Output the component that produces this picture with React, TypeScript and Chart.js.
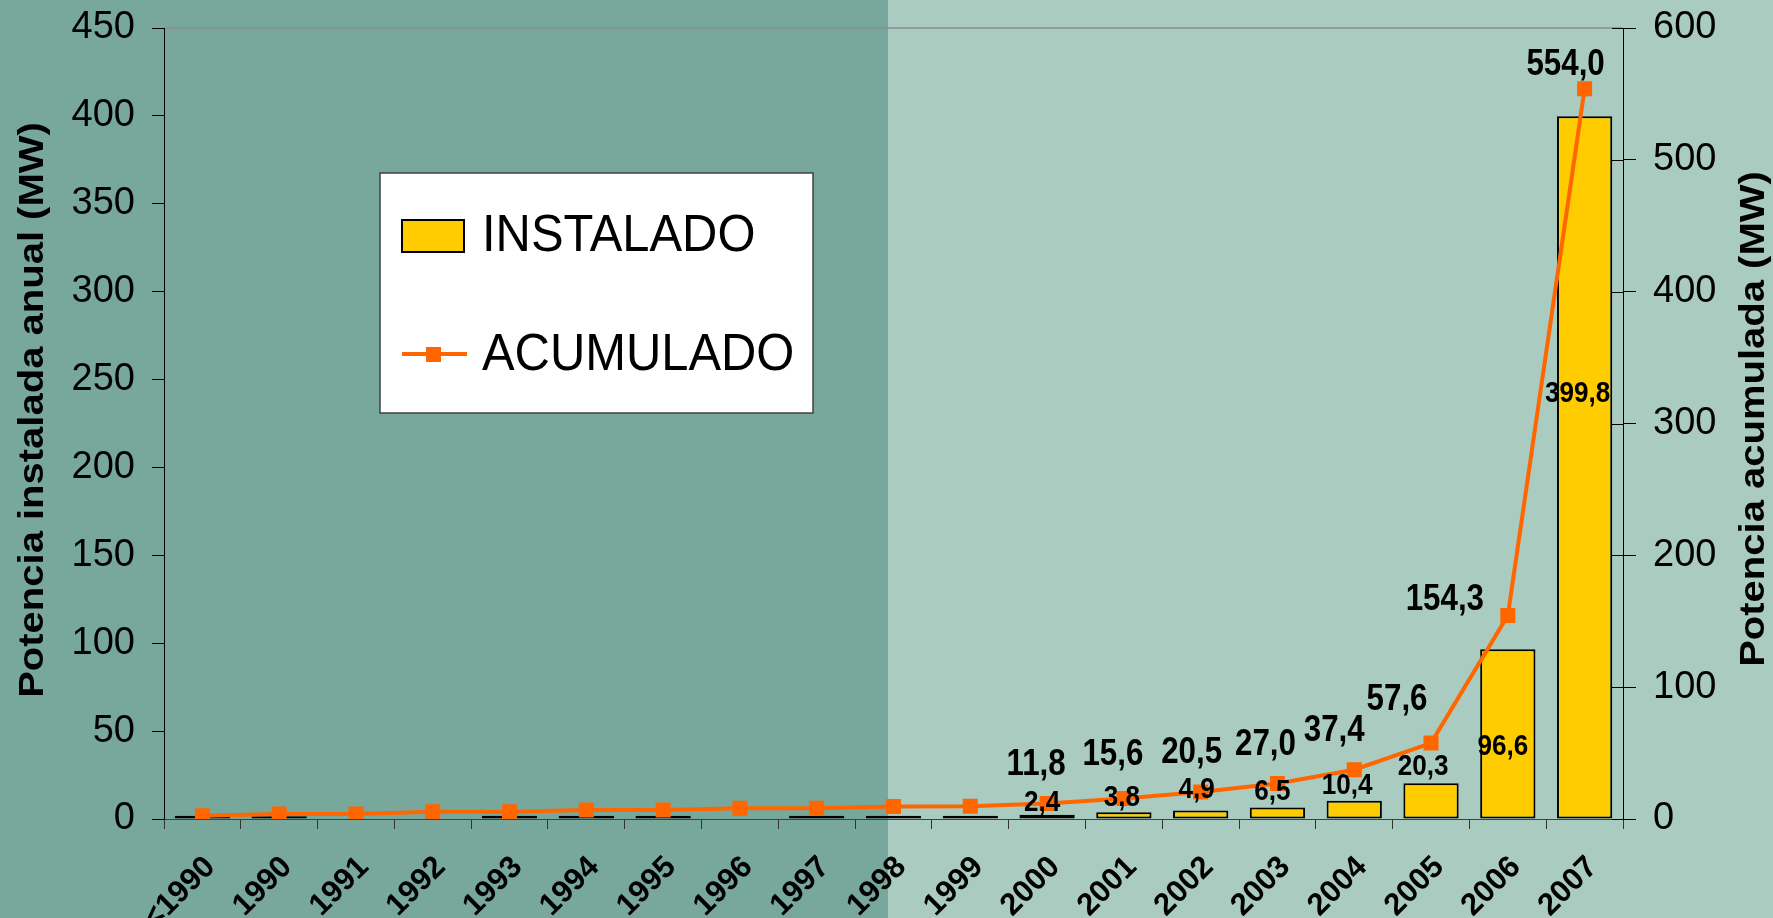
import React, { useEffect, useRef } from 'react';
import { Chart, registerables } from 'chart.js';

Chart.register(...registerables);

// ---------- data ----------
const CATEGORIES = [
  '<1990', '1990', '1991', '1992', '1993', '1994', '1995', '1996', '1997', '1998',
  '1999', '2000', '2001', '2002', '2003', '2004', '2005', '2006', '2007',
];
// Potencia instalada anual (MW)
const INSTALADO = [
  1.8, 1.5, null, null, 1.8, 1.8, 1.8, null, 1.8, 1.8,
  1.8, 2.4, 3.8, 4.9, 6.5, 10.4, 20.3, 96.6, 399.8,
];
// Potencia acumulada (MW)
const ACUMULADO = [
  2.5, 3.8, 3.8, 5.5, 5.5, 6.8, 6.8, 8.1, 8.1, 9.5,
  9.6, 11.8, 15.6, 20.5, 27.0, 37.4, 57.6, 154.3, 554.0,
];
// categories whose values carry a data label
const LABELLED_YEARS = ['2000', '2001', '2002', '2003', '2004', '2005', '2006', '2007'];

const LEFT_TICKS = { min: 0, max: 450, step: 50 };
const RIGHT_TICKS = { min: 0, max: 600, step: 100 };

const SERIES_NAMES = ['INSTALADO', 'ACUMULADO'];
const TITLE_LEFT = 'Potencia instalada anual (MW)';
const TITLE_RIGHT = 'Potencia acumulada (MW)';

// ---------- style ----------
const FONT = '"Liberation Sans", Arial, Helvetica, sans-serif';
const BG_DARK = '#78A89C';
const BG_LIGHT = '#AACBBF';
const BG_SPLIT = 888 / 1773;
const BAR_FILL = '#FFCC00';
const LINE_COLOR = '#FF6600';
const W = 1773;
const H = 918;

// label nudges in px (relative to bar top / marker centre)
const BAR_LABEL_NUDGE: Record<string, [number, number]> = {
  '2000': [-5, -12], '2001': [-2, -15], '2002': [-4, -21], '2003': [-5, -16],
  '2004': [-7, -15], '2005': [-8, -17], '2006': [-5, 98], '2007': [-7, 277],
};
const LINE_LABEL_NUDGE: Record<string, [number, number]> = {
  '2000': [-11, -38], '2001': [-11, -43], '2002': [-9, -39], '2003': [-12, -38],
  '2004': [-20, -39], '2005': [-34, -43], '2006': [-63, -16], '2007': [-19, -24],
};

const fmt = (v: number) => v.toFixed(1).replace('.', ',');

function squeezedText(ctx: CanvasRenderingContext2D, text: string, x: number, y: number, font: string, sx: number) {
  ctx.save();
  ctx.translate(x, y);
  ctx.scale(sx, 1);
  ctx.font = font;
  ctx.textAlign = 'center';
  ctx.textBaseline = 'middle';
  ctx.fillStyle = '#000';
  ctx.fillText(text, 0, 0);
  ctx.restore();
}

const decor = {
  id: 'decor',
  beforeDraw(chart: any) {
    const { ctx, width, height, chartArea } = chart;
    ctx.save();
    const split = Math.round(width * BG_SPLIT);
    ctx.fillStyle = BG_DARK;
    ctx.fillRect(0, 0, split, height);
    ctx.fillStyle = BG_LIGHT;
    ctx.fillRect(split, 0, width - split, height);
    ctx.strokeStyle = '#8c8c8c';
    ctx.lineWidth = 1.5;
    ctx.beginPath();
    ctx.moveTo(chartArea.left, chartArea.top);
    ctx.lineTo(chartArea.right, chartArea.top);
    ctx.stroke();
    ctx.restore();
  },
  afterDatasetsDraw(chart: any) {
    const { ctx } = chart;
    const lineMeta = chart.getDatasetMeta(0);
    const barMeta = chart.getDatasetMeta(1);
    ctx.save();
    CATEGORIES.forEach((cat, i) => {
      if (!LABELLED_YEARS.includes(cat)) return;
      const bar = barMeta.data[i];
      const bv = INSTALADO[i];
      if (bar && bv != null) {
        const [dx, dy] = BAR_LABEL_NUDGE[cat] || [-5, -16];
        squeezedText(ctx, fmt(bv), bar.x + dx, bar.y + dy, `bold 30px ${FONT}`, 0.87);
      }
      const pt = lineMeta.data[i];
      const lv = ACUMULADO[i];
      if (pt && lv != null) {
        const [dx, dy] = LINE_LABEL_NUDGE[cat] || [-11, -38];
        squeezedText(ctx, fmt(lv), pt.x + dx, pt.y + dy, `bold 36px ${FONT}`, 0.87);
      }
    });
    ctx.restore();
  },
  afterDraw(chart: any) {
    const { ctx, chartArea, scales } = chart;
    ctx.save();
    // inner part of the right axis ticks (cross ticks)
    const y1 = scales.y1;
    ctx.strokeStyle = '#000';
    ctx.lineWidth = 1;
    for (let v = RIGHT_TICKS.min; v <= RIGHT_TICKS.max; v += RIGHT_TICKS.step) {
      const py = Math.round(y1.getPixelForValue(v)) + 0.5;
      ctx.beginPath();
      ctx.moveTo(chartArea.right - 11, py);
      ctx.lineTo(chartArea.right, py);
      ctx.stroke();
    }

    // axis titles, reading bottom-to-top
    const drawTitle = (text: string, x: number, y: number) => {
      ctx.save();
      ctx.translate(x, y);
      ctx.scale(0.87, 1);
      ctx.rotate(-Math.PI / 2);
      ctx.font = `bold 40px ${FONT}`;
      ctx.textAlign = 'center';
      ctx.textBaseline = 'middle';
      ctx.fillStyle = '#000';
      ctx.fillText(text, 0, 0);
      ctx.restore();
    };
    drawTitle(TITLE_LEFT, 33, 410);
    drawTitle(TITLE_RIGHT, 1754, 419);

    // legend box
    ctx.fillStyle = '#FFFFFF';
    ctx.fillRect(380, 173, 433, 240);
    ctx.strokeStyle = '#404040';
    ctx.lineWidth = 1.5;
    ctx.strokeRect(380, 173, 433, 240);
    // bar swatch
    ctx.fillStyle = BAR_FILL;
    ctx.fillRect(402, 220, 62, 32);
    ctx.strokeStyle = '#000';
    ctx.lineWidth = 2;
    ctx.strokeRect(402, 220, 62, 32);
    // line swatch
    ctx.strokeStyle = LINE_COLOR;
    ctx.lineWidth = 4;
    ctx.beginPath();
    ctx.moveTo(402, 354);
    ctx.lineTo(467, 354);
    ctx.stroke();
    ctx.fillStyle = LINE_COLOR;
    ctx.fillRect(426, 347, 15, 15);
    // legend texts
    const legendText = (t: string, x: number, baseline: number) => {
      ctx.save();
      ctx.translate(x, baseline);
      ctx.scale(0.94, 1);
      ctx.font = `52px ${FONT}`;
      ctx.textAlign = 'left';
      ctx.textBaseline = 'alphabetic';
      ctx.fillStyle = '#000';
      ctx.fillText(t, 0, 0);
      ctx.restore();
    };
    legendText(SERIES_NAMES[0], 482, 251);
    legendText(SERIES_NAMES[1], 482, 370);
    ctx.restore();
  },
};

export default function App() {
  const ref = useRef<HTMLCanvasElement | null>(null);

  useEffect(() => {
    document.body.style.margin = '0';
    const canvas = ref.current;
    if (!canvas) return;
    const chart = new Chart(canvas, {
      type: 'bar',
      data: {
        labels: CATEGORIES,
        datasets: [
          {
            type: 'line',
            label: SERIES_NAMES[1],
            data: ACUMULADO,
            yAxisID: 'y1',
            borderColor: LINE_COLOR,
            backgroundColor: LINE_COLOR,
            borderWidth: 4,
            pointStyle: 'rect',
            pointRadius: 10.6,
            pointBackgroundColor: LINE_COLOR,
            pointBorderColor: LINE_COLOR,
            pointBorderWidth: 0,
            tension: 0,
            order: 0,
          } as any,
          {
            type: 'bar',
            label: SERIES_NAMES[0],
            data: INSTALADO,
            yAxisID: 'y',
            backgroundColor: BAR_FILL,
            borderColor: '#000',
            borderWidth: 2,
            borderSkipped: false,
            barPercentage: 0.72,
            categoryPercentage: 1,
            order: 1,
          } as any,
        ],
      },
      options: {
        responsive: false,
        animation: false,
        devicePixelRatio: 1,
        layout: { padding: { top: 28, left: 0, right: 0, bottom: 0 } },
        plugins: {
          legend: { display: false },
          tooltip: { enabled: false },
          title: { display: false },
        },
        scales: {
          x: {
            offset: true,
            grid: {
              display: true,
              drawOnChartArea: false,
              drawTicks: true,
              tickLength: 10,
              color: '#333',
              offset: true,
            },
            border: { display: true, color: '#404040', width: 1 },
            ticks: {
              autoSkip: false,
              maxRotation: 45,
              minRotation: 45,
              font: { family: FONT, size: 31, weight: 'bold' },
              color: '#000',
              padding: 20,
              labelOffset: 8,
            },
            afterFit: (s: any) => {
              s.height = 99;
            },
          },
          y: {
            position: 'left',
            min: LEFT_TICKS.min,
            max: LEFT_TICKS.max,
            ticks: {
              stepSize: LEFT_TICKS.step,
              font: { family: FONT, size: 38 },
              color: '#000',
              padding: 17,
            },
            grid: { drawOnChartArea: false, tickLength: 12, color: '#000' },
            border: { color: '#000', width: 1 },
            afterFit: (s: any) => {
              s.width = 164;
              s.paddingTop = 0;
              s.paddingBottom = 0;
            },
          },
          y1: {
            position: 'right',
            min: RIGHT_TICKS.min,
            max: RIGHT_TICKS.max,
            ticks: {
              stepSize: RIGHT_TICKS.step,
              font: { family: FONT, size: 38 },
              color: '#000',
              padding: 17,
            },
            grid: { drawOnChartArea: false, tickLength: 13, color: '#000' },
            border: { color: '#000', width: 1 },
            afterFit: (s: any) => {
              s.width = 150;
              s.paddingTop = 0;
              s.paddingBottom = 0;
            },
          },
        },
      } as any,
      plugins: [decor],
    });
    return () => chart.destroy();
  }, []);

  return (
    <div style={{ width: W, height: H, overflow: 'hidden' }}>
      <canvas ref={ref} width={W} height={H} style={{ display: 'block', width: W, height: H }} />
    </div>
  );
}
